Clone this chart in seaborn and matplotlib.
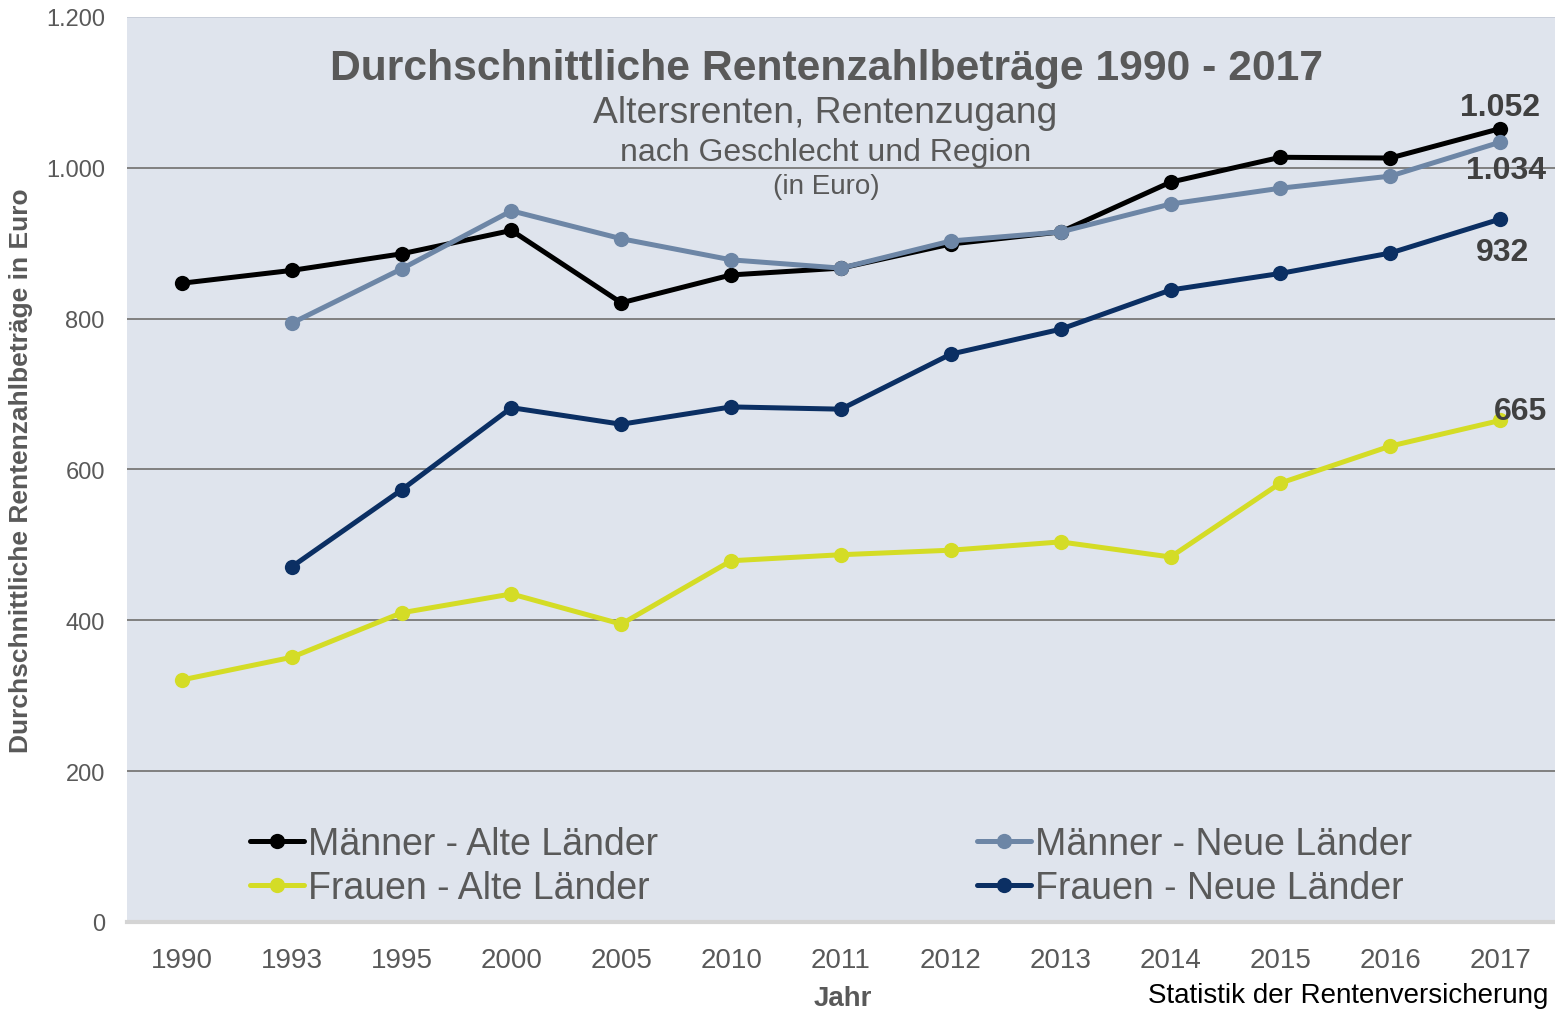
import pandas as pd
import matplotlib.pyplot as plt
import seaborn as sns

# Daten
jahre = ['1990', '1993', '1995', '2000', '2005', '2010', '2011', '2012', '2013', '2014', '2015', '2016', '2017']
maenner_alt = [847, 864, 886, 917, 821, 858, 867, 899, 915, 981, 1014, 1013, 1052]
maenner_neu = [None, 794, 866, 943, 906, 878, 867, 903, 915, 952, 973, 989, 1034]
frauen_alt = [321, 351, 410, 435, 395, 479, 487, 493, 504, 484, 582, 631, 665]
frauen_neu = [None, 471, 573, 682, 660, 683, 680, 753, 786, 838, 860, 887, 932]
serien = ['Männer - Alte Länder', 'Männer - Neue Länder', 'Frauen - Alte Länder', 'Frauen - Neue Länder']
farben = ['#000000', '#6d86a6', '#d4dc26', '#0b2f63']

sns.set_theme(style='white')
plt.rcParams['font.family'] = ['Liberation Sans', 'DejaVu Sans']

# Long-Format fuer seaborn
rows = []
for name, werte in zip(serien, [maenner_alt, maenner_neu, frauen_alt, frauen_neu]):
    for i, (j, w) in enumerate(zip(jahre, werte)):
        if w is not None:
            rows.append({'pos': i, 'jahr': j, 'wert': w, 'serie': name})
df = pd.DataFrame(rows)

fig = plt.figure(figsize=(15.55, 10.12), dpi=100)
ax = fig.add_axes([127 / 1555, 89 / 1012, 1428 / 1555, 905 / 1012])
ax.set_facecolor('#dfe4ed')

sns.lineplot(data=df, x='pos', y='wert', hue='serie', hue_order=serien, palette=farben,
             marker='o', markersize=11, markeredgewidth=0, linewidth=3.6,
             errorbar=None, legend=False, ax=ax)

ax.set_xlim(-0.5, 12.5)
ax.set_ylim(0, 1200)
ax.set_xticks(range(len(jahre)))
ax.set_xticklabels(jahre)
ax.set_yticks(range(0, 1201, 200))
ax.set_yticklabels(['0', '200', '400', '600', '800', '1.000', '1.200'])
ax.tick_params(axis='x', labelsize=20, labelcolor='#595959', length=0, pad=18)
ax.tick_params(axis='y', labelsize=17, labelcolor='#595959', length=0, pad=16)

for y in range(200, 1001, 200):
    ax.axhline(y, color='#808080', lw=1.4, zorder=0)
ax.axhline(1200, color='#c4cad6', lw=1.2, zorder=0)

for s in ['left', 'right', 'top']:
    ax.spines[s].set_visible(False)
ax.spines['bottom'].set_color('#d4d4d4')
ax.spines['bottom'].set_linewidth(3)

ax.set_xlabel('Jahr', fontsize=20, fontweight='bold', color='#595959')
ax.xaxis.set_label_coords(0.501, -0.07)
ax.set_ylabel('Durchschnittliche Rentenzahlbeträge in Euro', fontsize=19,
              fontweight='bold', color='#595959')
ax.yaxis.set_label_coords(-0.066, 0.5)

# Titel im Diagramm
ax.text(0.49, 0.944, 'Durchschnittliche Rentenzahlbeträge 1990 - 2017', transform=ax.transAxes,
        ha='center', va='center', fontsize=30.7, fontweight='bold', color='#595959')
ax.text(0.489, 0.894, 'Altersrenten, Rentenzugang', transform=ax.transAxes,
        ha='center', va='center', fontsize=26.8, color='#595959')
ax.text(0.489, 0.851, 'nach Geschlecht und Region', transform=ax.transAxes,
        ha='center', va='center', fontsize=23, color='#595959')
ax.text(0.49, 0.813, '(in Euro)', transform=ax.transAxes,
        ha='center', va='center', fontsize=20, color='#595959')

# Werte 2017
ax.text(12, maenner_alt[-1] + 28, '1.052', ha='center', va='center', fontsize=23,
        fontweight='bold', color='#404040')
ax.text(12.05, maenner_neu[-1] - 37, '1.034', ha='center', va='center', fontsize=23,
        fontweight='bold', color='#404040')
ax.text(12.02, frauen_neu[-1] - 44, '932', ha='center', va='center', fontsize=23,
        fontweight='bold', color='#404040')
ax.text(12.19, frauen_alt[-1] + 13, '665', ha='center', va='center', fontsize=23,
        fontweight='bold', color='#404040')

# Legende: Spaltenweise gefuellt, daher umsortieren
handles = ax.lines[:4]
order = [0, 2, 1, 3]
leg = ax.legend([handles[i] for i in order], [serien[i] for i in order], ncol=2,
                loc='center left', bbox_to_anchor=(0.086, 0.062), frameon=False,
                fontsize=27, handlelength=1.45, handletextpad=0.1, columnspacing=8.5,
                labelspacing=0.22, borderpad=0, borderaxespad=0)
for t in leg.get_texts():
    t.set_color('#595959')

fig.text(1148 / 1555, 3 / 1012, 'Statistik der Rentenversicherung', fontsize=20,
         color='#000000', ha='left', va='bottom')

fig.savefig('out.png', dpi=100, facecolor='white')
